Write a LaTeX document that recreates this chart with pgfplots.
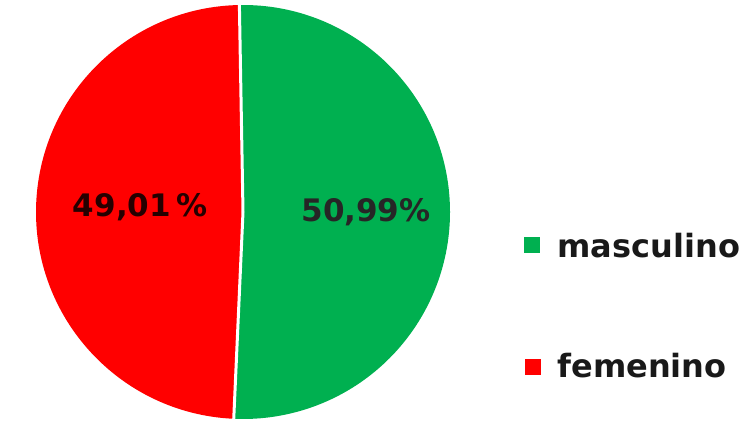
\documentclass[border=0pt]{standalone}
\usepackage{pgfplots}
\usepackage{pgfplotstable}
\usepackage{fontspec}
\pgfplotsset{compat=1.18}
\setmainfont{DejaVu Sans}
\definecolor{cgreen}{HTML}{00B050}
\definecolor{cred}{HTML}{FF0000}
\pgfplotstableread{
cat value
masculino 50.99
femenino 49.01
}\piedata
\begin{document}
\begin{tikzpicture}
\pgfplotstablegetelem{0}{value}\of\piedata \let\vm\pgfplotsretval
\pgfplotstablegetelem{1}{value}\of\piedata \let\vf\pgfplotsretval
\pgfmathsetmacro{\astart}{91}
\pgfmathsetmacro{\amid}{\astart-3.6*\vm}
\pgfmathsetmacro{\aend}{\amid-3.6*\vf}
\begin{axis}[
  width=749pt, height=421pt, scale only axis,
  xmin=0, xmax=749, ymin=0, ymax=421,
  hide axis, clip=false,
]
\path (axis cs:0,0) rectangle (axis cs:749,421);
% pie
\fill[cgreen] (axis cs:243,209) -- ++(\astart:207pt) arc[start angle=\astart, end angle=\amid, radius=207pt] -- cycle;
\fill[cred] (axis cs:243,209) -- ++(\amid:207pt) arc[start angle=\amid, end angle=\aend, radius=207pt] -- cycle;
\draw[white, line width=3pt] (axis cs:243,209) -- ++(\astart:208pt);
\draw[white, line width=3pt] (axis cs:243,209) -- ++(\amid:208pt);
% labels
\node[font=\fontsize{31}{36}\selectfont\bfseries, text=black!85!red] at (axis cs:140,214) {49,01\,\%};
\node[font=\fontsize{31}{36}\selectfont\bfseries, text=black!85] at (axis cs:366,209) {50,99\%};
% legend
\fill[cgreen] (axis cs:524,168) rectangle (axis cs:540,184);
\node[anchor=base west, font=\fontsize{32}{38}\selectfont\bfseries, text=black!90] at (axis cs:554,164) {masculino};
\fill[cred] (axis cs:525,46) rectangle (axis cs:541,62);
\node[anchor=base west, font=\fontsize{32}{38}\selectfont\bfseries, text=black!90] at (axis cs:554,44) {femenino};
\end{axis}
\end{tikzpicture}
\end{document}
